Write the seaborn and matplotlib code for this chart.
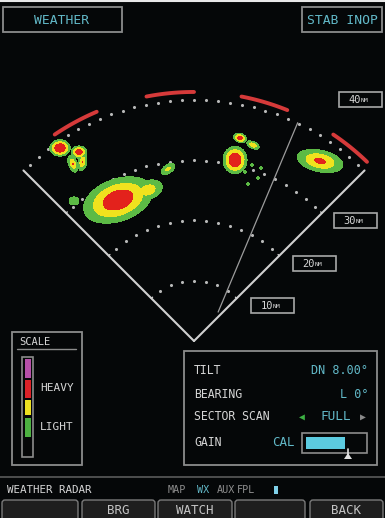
import numpy as np
import matplotlib.pyplot as plt
import matplotlib.patches as mpatches
import seaborn as sns

# ── Radar data (NM, angle from straight ahead in degrees) ─────────────────────
ring_nm = [10, 20, 30, 40]
sector_deg = [-45, 45]
red_arc_nm = 41.3
red_arc_start = [-34, -11, 11, 34]
red_arc_end = [-23, 0, 22, 44]
bearing_x = [4.0, 17.2]
bearing_y = [4.8, 36.2]

# weather cells: centre, semi-axes, tilt, peak level (1 light .. 3 heavy)
cell_x = [-12.60, -7.63, -19.90, -4.31, -22.22, -19.07, -20.10, -18.50,
          6.80, 7.63, 9.78, 8.46, 9.62, 10.61, 8.96, 11.11, 20.90]
cell_y = [23.38, 25.04, 23.22, 28.52, 32.01, 31.34, 29.40, 29.70,
          30.02, 33.67, 32.50, 28.03, 29.19, 27.03, 26.04, 28.69, 29.85]
cell_a = [7.63, 3.65, 1.82, 2.16, 2.10, 1.60, 1.05, 1.05,
          2.49, 1.50, 1.66, 0.60, 0.60, 0.60, 0.60, 0.60, 5.31]
cell_b = [4.48, 2.32, 1.50, 1.16, 1.70, 1.30, 2.10, 2.10,
          2.82, 1.00, 0.83, 0.60, 0.60, 0.60, 0.60, 0.60, 2.49]
cell_tilt = [20, 20, 0, 35, 0, 0, 20, -10, 0, -20, -25, 0, 0, 0, 0, 0, -12]
cell_peak = [4.5, 3.0, 1.8, 2.5, 5.0, 4.5, 3.2, 3.2,
             5.0, 4.0, 3.0, 1.6, 1.6, 1.6, 1.6, 1.6, 3.6]

# ── Panel texts ───────────────────────────────────────────────────────────────
range_labels = ["10", "20", "30", "40"]
scale_colors = ["#b64fa8", "#dc2228", "#ece020", "#4cb040", "#050607"]
scale_labels = ["HEAVY", "LIGHT"]
info_labels = ["TILT", "BEARING", "SECTOR SCAN", "GAIN"]
info_values = ["DN 8.00°", "L 0°"]
gain_fill = 0.66
nav_items = ["MAP", "WX", "AUX", "FPL"]
softkeys = ["", "BRG", "WATCH", "", "BACK"]

BG = "#050708"
CYAN = "#62b9c8"
WHITE = "#d6d6d6"
FRAME = "#8c8c8c"
DOT = "#b8b8b8"
WX_COLORS = ["#5cba45", "#f0e21e", "#e3221c"]

sns.set_theme(style="dark", rc={"figure.facecolor": BG, "axes.facecolor": BG})
plt.rcParams["font.family"] = ["DejaVu Sans Mono", "DejaVu Sans"]

fig = plt.figure(figsize=(3.85, 5.18), dpi=100)

# radar axes in NM, apex at (0, 0); 6.03 px per NM
ax = fig.add_axes([0, 0, 1, 1])
ax.set_xlim(-194 / 6.03, 191 / 6.03)
ax.set_ylim(-177 / 6.03, 341 / 6.03)
ax.axis("off")
ax.set_facecolor(BG)

def polar(r, deg):
    t = np.deg2rad(np.asarray(deg, dtype=float))
    return r * np.sin(t), r * np.cos(t)

# range ring dots
dx, dy = [], []
for r in ring_nm:
    step = np.rad2deg(2.0 / r)
    n = int(43.5 // step)
    px, py = polar(r, np.arange(-n, n + 1) * step)
    dx += list(px)
    dy += list(py)
sns.scatterplot(x=dx, y=dy, s=5, color=DOT, linewidth=0, ax=ax, zorder=2)

# sector edges and ticks
for side in sector_deg:
    ex, ey = polar(ring_nm[-1], [side, side])
    sns.lineplot(x=[0, ex[0]], y=[0, ey[0]], color="#d0d0d0", lw=1.5,
                 sort=False, ax=ax, zorder=3)
    for r in ring_nm[:-1]:
        tx, ty = polar(np.array([r, r]), [side, side - np.sign(side) * 1.6 * 10 / r])
        ax.plot(tx, ty, color="#d0d0d0", lw=1.0, zorder=3)

# bearing line
sns.lineplot(x=bearing_x, y=bearing_y, color="#9c9c9c", lw=0.9, sort=False,
             ax=ax, zorder=3)

# red arcs beyond 40 NM
for a0, a1 in zip(red_arc_start, red_arc_end):
    rx, ry = polar(red_arc_nm, np.linspace(a0, a1, 30))
    ax.plot(rx, ry, color="#d63a3a", lw=2.8, solid_capstyle="round", zorder=3)

# weather returns
gx, gy = np.meshgrid(np.arange(-27, 27, 0.07), np.arange(14, 42, 0.07))
field = np.zeros_like(gx)
for x0, y0, a, b, ang, p in zip(cell_x, cell_y, cell_a, cell_b, cell_tilt, cell_peak):
    t = np.deg2rad(ang)
    u = (gx - x0) * np.cos(t) + (gy - y0) * np.sin(t)
    v = -(gx - x0) * np.sin(t) + (gy - y0) * np.cos(t)
    field = np.maximum(field, p * (1 - np.sqrt((u / a) ** 2 + (v / b) ** 2)))
ax.contourf(gx, gy, field, levels=[1, 2, 3, 99], colors=WX_COLORS, zorder=4)

# ── Screen furniture in pixel coordinates ─────────────────────────────────────
ui = fig.add_axes([0, 0, 1, 1])
ui.set_xlim(0, 385)
ui.set_ylim(518, 0)
ui.axis("off")
ui.patch.set_alpha(0)

def box(x0, y0, x1, y1, ec=FRAME, fc="none", lw=1.3, z=5):
    ui.add_patch(mpatches.Rectangle((x0, y0), x1 - x0, y1 - y0, ec=ec, fc=fc,
                                    lw=lw, zorder=z))

def txt(x, y, s, color=WHITE, size=8.5, ha="left", **kw):
    ui.text(x, y, s, color=color, fontsize=size, ha=ha, va="center", zorder=6, **kw)

ui.plot([0, 385], [0.6, 0.6], color="#e8e8e8", lw=1.5)

box(3, 7, 122, 32)
txt(62, 20, "WEATHER", CYAN, 9.4, "center")
box(302, 7, 382, 32)
txt(342, 20, "STAB INOP", CYAN, 9.4, "center")

# range label boxes
label_boxes = [(251, 298), (293, 256), (334, 213), (339, 92)]
for (bx, by), lab in zip(label_boxes, range_labels):
    box(bx, by, bx + 43, by + 15, ec="#a8a8a8", lw=1.2)
    txt(bx + 22, by + 8, lab, WHITE, 7.5, "right")
    txt(bx + 22, by + 8.5, "NM", WHITE, 4.6, "left")

# scale legend
box(12, 332, 82, 465)
txt(19, 342, "SCALE", WHITE, 7.5)
ui.plot([17, 76], [349, 349], color=FRAME, lw=1)
box(22, 357, 33, 457, ec=FRAME, lw=1.2)
sw_top = [359, 380, 400, 418, 439]
sw_bot = [378, 398, 415, 437, 456]
for c, t0, t1 in zip(scale_colors, sw_top, sw_bot):
    box(24.5, t0, 30.5, t1, ec="none", fc=c, lw=0)
txt(40, 388, scale_labels[0], WHITE, 8)
txt(40, 427, scale_labels[1], WHITE, 8)

# info panel
box(184, 351, 377, 465)
for yy, lab in zip([370, 394, 417, 442], info_labels):
    txt(194, yy, lab, WHITE, 8.3)
txt(368, 370, info_values[0], CYAN, 8.5, "right")
txt(368, 394, info_values[1], CYAN, 8.5, "right")
txt(302, 417, "◀", "#3cb043", 7, "center")
txt(336, 417, "FULL", CYAN, 9.2, "center")
txt(363, 417, "▶", "#8a8a8a", 7, "center")
txt(272, 442, "CAL", CYAN, 9)
box(302, 433, 367, 453, ec=FRAME, lw=1.2)
box(306, 437, 306 + gain_fill * 59, 449, ec="none", fc="#5ccbe0", lw=0)
ui.plot([348, 348], [449, 455], color="#e0e0e0", lw=1.2, zorder=6)
ui.add_patch(mpatches.Polygon([[344, 459], [352, 459], [348, 453]],
                              fc="#e0e0e0", ec="none", zorder=6))

# status line
ui.plot([0, 385], [477, 477], color="#5a5a5a", lw=1.2)
txt(7, 490, "WEATHER RADAR", WHITE, 7.8)
for xx, item in zip([168, 197, 217, 237], nav_items):
    txt(xx, 490, item, CYAN if item == "WX" else "#8e8e8e", 7.3)
box(274, 486, 278, 494, ec="none", fc="#7fd0e8", lw=0)

# softkeys
key_x = [(2, 78), (82, 155), (158, 232), (235, 305), (310, 383)]
for (k0, k1), lab in zip(key_x, softkeys):
    ui.add_patch(mpatches.FancyBboxPatch((k0, 500), k1 - k0, 24,
                                         boxstyle="round,pad=0,rounding_size=3",
                                         ec="#7a7a7a", fc="#1e1e1e", lw=1.0, zorder=5))
    if lab:
        txt((k0 + k1) / 2, 510.5, lab, "#c4c4c4", 9, "center")

fig.savefig("out.png", dpi=100, facecolor=BG)
